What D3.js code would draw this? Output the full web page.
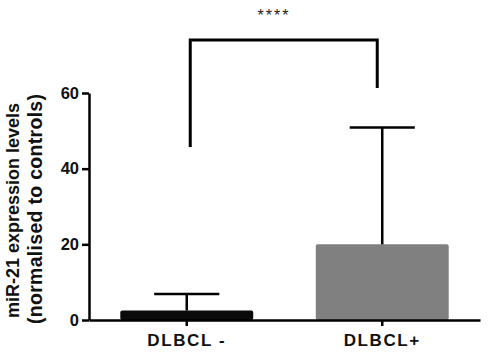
<!DOCTYPE html>
<html>
<head>
<meta charset="utf-8">
<script src="https://cdn.jsdelivr.net/npm/d3@7"></script>
<style>
  body { margin: 0; background: #fff; }
  text { font-family: "Liberation Sans", Arial, sans-serif; }
</style>
</head>
<body>
<div id="chart"></div>
<script>
// data
const categories = ['DLBCL -', 'DLBCL+'];
const means = [2.5, 20];
const errUpper = [6.9, 50.9];
const barColors = ['#0a0a0a', '#808080'];
const yTicks = [0, 20, 40, 60];
// significance bracket: left leg end, right leg end, top (in data units)
const bracket = { left: 45.7, right: 61.3, top: 74, label: '****' };

const width = 500, height = 361;
const margin = { left: 89, right: 20, top: 93, bottom: 41 };

const svg = d3.select('#chart').append('svg')
    .attr('width', width)
    .attr('height', height);

const x = d3.scaleBand()
    .domain(categories)
    .range([margin.left, 480])
    .paddingInner(0.32)
    .paddingOuter(0.16);

const y = d3.scaleLinear()
    .domain([0, 60])
    .range([height - margin.bottom, margin.top]);

const cx = c => x(c) + x.bandwidth() / 2;

// bars
svg.selectAll('.bar')
    .data(categories)
    .enter().append('rect')
    .attr('class', 'bar')
    .attr('x', d => x(d))
    .attr('y', (d, i) => y(means[i]))
    .attr('width', x.bandwidth())
    .attr('height', (d, i) => y(0) - y(means[i]))
    .attr('rx', 2)
    .attr('fill', (d, i) => barColors[i]);

// error bars (upper only)
const capW = x.bandwidth() * 0.49;
svg.selectAll('.err')
    .data(categories)
    .enter().append('line')
    .attr('x1', d => cx(d)).attr('x2', d => cx(d))
    .attr('y1', (d, i) => y(means[i]))
    .attr('y2', (d, i) => y(errUpper[i]))
    .attr('stroke', '#000')
    .attr('stroke-width', 2.5);

svg.selectAll('.cap')
    .data(categories)
    .enter().append('line')
    .attr('x1', d => cx(d) - capW / 2).attr('x2', d => cx(d) + capW / 2)
    .attr('y1', (d, i) => y(errUpper[i]))
    .attr('y2', (d, i) => y(errUpper[i]))
    .attr('stroke', '#000')
    .attr('stroke-width', 2.5);

// y axis
const yAxis = svg.append('g')
    .attr('transform', `translate(${margin.left},0)`)
    .call(d3.axisLeft(y).tickValues(yTicks).tickSize(7).tickPadding(3).tickSizeOuter(0));
yAxis.select('.domain').attr('stroke-width', 2.5);
yAxis.selectAll('.tick line').attr('stroke-width', 2.5);
yAxis.selectAll('.tick text')
    .attr('font-size', 16.5)
    .attr('font-weight', 'bold')
    .attr('fill', '#111')
    .attr('font-family', '"Liberation Sans", Arial, sans-serif');

// x axis
const xAxis = svg.append('g')
    .attr('transform', `translate(0,${y(0)})`)
    .call(d3.axisBottom(x).tickSize(6).tickPadding(7.5).tickSizeOuter(0));
xAxis.select('.domain').attr('stroke-width', 2.5);
xAxis.selectAll('.tick line').attr('stroke-width', 2.5);
xAxis.selectAll('.tick text')
    .attr('font-size', 17)
    .attr('font-weight', 'bold')
    .attr('letter-spacing', 1.6)
    .attr('fill', '#111')
    .attr('font-family', '"Liberation Sans", Arial, sans-serif');

// y axis title, two lines
const yTitle = ['miR-21 expression levels', '(normalised to controls)'];
const titleSize = [18, 19.5];
const titleLen = [215, 230];
const titleMid = [210.5, 209];
svg.selectAll('.ytitle')
    .data(yTitle)
    .enter().append('text')
    .attr('transform', (d, i) => `translate(${19 + i * 23},${titleMid[i]}) rotate(-90)`)
    .attr('text-anchor', 'middle')
    .attr('font-size', (d, i) => titleSize[i])
    .attr('font-weight', 'bold')
    .attr('textLength', (d, i) => titleLen[i])
    .attr('lengthAdjust', 'spacing')
    .attr('fill', '#111')
    .text(d => d);

// significance bracket
const bx1 = cx(categories[0]) + 3.5, bx2 = cx(categories[1]) - 5;
svg.append('path')
    .attr('d', `M${bx1},${y(bracket.left)} V${y(bracket.top)} H${bx2} V${y(bracket.right)}`)
    .attr('fill', 'none')
    .attr('stroke', '#000')
    .attr('stroke-width', 3);

svg.append('text')
    .attr('x', 274)
    .attr('y', 21)
    .attr('text-anchor', 'middle')
    .attr('font-size', 16)
    .attr('letter-spacing', 2)
    .attr('fill', '#222')
    .text(bracket.label);
</script>
</body>
</html>
